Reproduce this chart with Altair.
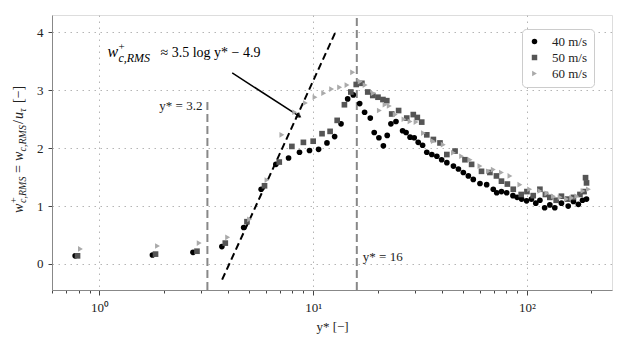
import altair as alt
import pandas as pd

speeds = ["40 m/s", "50 m/s", "60 m/s"]
colors = ["#000000", "#555555", "#aaaaaa"]
shapes = ["circle", "square", "triangle-right"]

x40 = [0.77, 1.77, 2.74, 3.74, 4.73, 5.71, 6.69, 7.67, 8.63, 9.61, 10.6, 11.6, 12.6, 13.5, 14.5,
       15.4, 16.5, 17.4, 18.5, 19.3, 20.3, 21.3, 22.2, 23.1, 24.4, 26.2, 27.2, 28.4, 29.7, 31.0,
       32.5, 34.0, 35.9, 37.9, 39.9, 42.2, 45.3, 47.8, 50.4, 53.2, 56.1, 60.3, 64.8, 69.6, 72.2,
       76.0, 80.4, 86.0, 90.0, 94.4, 99.6, 105, 110, 115, 121, 128, 135, 145, 156, 165, 174, 182, 190]
y40 = [0.14, 0.155, 0.20, 0.30, 0.63, 1.29, 1.72, 1.83, 1.93, 1.96, 1.98, 2.09, 2.20, 2.42, 2.85,
       2.92, 2.77, 2.62, 2.52, 2.27, 2.18, 2.04, 2.22, 2.42, 2.46, 2.30, 2.27, 2.19, 2.18, 2.10,
       2.05, 1.93, 1.89, 1.86, 1.80, 1.75, 1.69, 1.64, 1.58, 1.52, 1.46, 1.39, 1.37, 1.29, 1.23,
       1.25, 1.23, 1.18, 1.15, 1.12, 1.09, 1.12, 1.05, 1.10, 0.97, 1.02, 0.97, 1.05, 1.00, 1.08, 1.03, 1.10, 1.12]

x50 = [0.79, 1.83, 2.86, 3.88, 4.90, 5.92, 6.94, 7.95, 9.0, 10.0, 11.0, 12.0, 12.95, 14.0, 15.0,
       15.9, 16.9, 18.0, 19.0, 20.1, 21.2, 22.1, 23.3, 25.1, 27.4, 29.4, 30.7, 32.2, 34.0, 36.5,
       39.2, 42.2, 46.1, 51.3, 55.1, 61.3, 67.1, 72.0, 76.0, 81.0, 86.3, 94.0, 100, 107, 115,
       122, 128, 137, 145, 155, 165, 177, 185, 188, 190]
y50 = [0.14, 0.17, 0.22, 0.36, 0.73, 1.35, 1.76, 2.03, 2.10, 2.12, 2.25, 2.29, 2.48, 2.75, 2.97,
       3.10, 3.12, 2.97, 2.91, 2.88, 2.84, 2.82, 2.59, 2.65, 2.52, 2.58, 2.53, 2.45, 2.23, 2.15,
       2.09, 1.89, 1.95, 1.80, 1.72, 1.60, 1.58, 1.52, 1.43, 1.38, 1.29, 1.20, 1.25, 1.18, 1.29,
       1.20, 1.15, 1.10, 1.17, 1.12, 1.15, 1.20, 1.25, 1.49, 1.40]

x60 = [0.815, 1.87, 2.93, 3.98, 5.04, 6.08, 7.14, 8.2, 9.2, 10.2, 11.2, 12.2, 13.3, 14.4, 15.3,
       16.6, 17.5, 19.1, 20.4, 21.7, 22.7, 24.2, 26.6, 28.4, 30.3, 32.8, 36.5, 40.6, 45.3, 49.5,
       54.2, 60.3, 66.0, 69.6, 76.0, 83.3, 92.7, 103, 115, 124, 133, 143, 153, 162, 171, 183, 194]
y60 = [0.26, 0.31, 0.36, 0.46, 0.77, 1.45, 2.23, 2.62, 2.78, 2.88, 2.95, 3.02, 3.05, 3.09, 3.31,
       3.15, 3.09, 2.95, 2.65, 2.75, 2.73, 2.58, 2.50, 2.46, 2.45, 2.26, 2.12, 2.06, 1.92, 1.86,
       1.80, 1.69, 1.60, 1.63, 1.58, 1.52, 1.37, 1.29, 1.26, 1.22, 1.17, 1.15, 1.12, 1.14, 1.17, 1.26, 1.29]

x_ticks = [0.6, 0.7, 0.8, 0.9, 1, 2, 3, 4, 5, 6, 7, 8, 9, 10, 20, 30, 40, 50, 60, 70, 80, 90, 100, 200]
y_ticks = [0, 1, 2, 3, 4]

fit_x = [3.75, 12.7]
fit_y = [-0.27, 4.0]

vline_x = [3.2, 16]
vline_top = [2.8, 4.25]
vline_labels = ["y* = 3.2", "y* = 16"]

FONT = "Liberation Serif"
TXT = "#222222"

rows = []
for lab, xs, ys in zip(speeds, [x40, x50, x60], [y40, y50, y60]):
    for a, b in zip(xs, ys):
        rows.append({"ys": a, "w": b, "speed": lab})
df = pd.DataFrame(rows)

xscale = alt.Scale(type="log", domain=[0.6, 250], nice=False)
yscale = alt.Scale(domain=[-0.45, 4.3], nice=False, zero=False)

major = "abs(log(datum.value)/LN10 - round(log(datum.value)/LN10)) < 0.001"

xaxis = alt.Axis(
    values=x_ticks,
    labelExpr="datum.value == 1 ? '10⁰' : datum.value == 10 ? '10¹' : datum.value == 100 ? '10²' : ''",
    title="y* [−]",
    grid=True,
    gridOpacity={"condition": {"test": major, "value": 1}, "value": 0},
    gridDash=[1.5, 4.5], gridColor="#b5b5b5", gridWidth=1,
    tickSize={"condition": {"test": major, "value": 5}, "value": 3},
    domainColor="#888888", tickColor="#444444",
    labelFont=FONT, labelFontSize=13, labelColor=TXT, labelPadding=6,
    labelOverlap=False, labelFlush=False,
    titleFont=FONT, titleFontSize=13, titleFontWeight="normal", titleColor=TXT, titlePadding=6,
)
yaxis = alt.Axis(
    values=y_ticks, format="d", title=None, grid=True,
    gridDash=[1.5, 4.5], gridColor="#b5b5b5", gridWidth=1,
    tickSize=4, domainColor="#888888", tickColor="#444444",
    labelFont=FONT, labelFontSize=13, labelColor=TXT, labelPadding=5,
)

pts = alt.Chart(df).mark_point(filled=True, opacity=1, size=32, strokeWidth=0).encode(
    x=alt.X("ys:Q", scale=xscale, axis=xaxis),
    y=alt.Y("w:Q", scale=yscale, axis=yaxis),
    color=alt.Color("speed:N", scale=alt.Scale(domain=speeds, range=colors),
                    legend=alt.Legend(title=None, orient="none", legendX=470, legendY=14,
                                      strokeColor="#cccccc", fillColor="white", cornerRadius=4,
                                      padding=6, labelFont=FONT, labelFontSize=13,
                                      labelColor=TXT, symbolSize=30, rowPadding=2,
                                      labelOffset=11)),
    shape=alt.Shape("speed:N", scale=alt.Scale(domain=speeds, range=shapes)),
)

vdf = pd.DataFrame({"ys": vline_x, "lo": [-0.45, -0.45], "hi": vline_top})
vlines = alt.Chart(vdf).mark_rule(color="#888888", strokeWidth=2, strokeDash=[8, 4]).encode(
    x=alt.X("ys:Q", scale=xscale), y=alt.Y("lo:Q", scale=yscale), y2="hi:Q")

fdf = pd.DataFrame({"ys": fit_x, "w": fit_y})
fit = alt.Chart(fdf).mark_line(color="black", strokeWidth=2, strokeDash=[7, 4]).encode(
    x=alt.X("ys:Q", scale=xscale), y=alt.Y("w:Q", scale=yscale))

adf = pd.DataFrame({"ys": [4.18, 8.7], "w": [3.3, 2.54]})
arrow = alt.Chart(adf).mark_line(color="black", strokeWidth=1.5).encode(
    x=alt.X("ys:Q", scale=xscale), y=alt.Y("w:Q", scale=yscale))
head = alt.Chart(adf.iloc[[1]]).mark_point(
    shape="M-1,-0.7L0,0L-1,0.7", filled=False, stroke="black", strokeWidth=1.5, size=60, angle=33
).encode(x=alt.X("ys:Q", scale=xscale), y=alt.Y("w:Q", scale=yscale))

l1 = alt.Chart(pd.DataFrame({"ys": [3.2], "w": [2.73], "t": [vline_labels[0]]})).mark_text(
    align="right", baseline="middle", dx=-5, font=FONT, fontSize=13, color=TXT
).encode(x=alt.X("ys:Q", scale=xscale), y=alt.Y("w:Q", scale=yscale), text="t:N")
l2 = alt.Chart(pd.DataFrame({"ys": [16], "w": [0.12], "t": [vline_labels[1]]})).mark_text(
    align="left", baseline="middle", dx=6, font=FONT, fontSize=13, color=TXT
).encode(x=alt.X("ys:Q", scale=xscale), y=alt.Y("w:Q", scale=yscale), text="t:N")


def dtext(xs, ys, texts, size, italic=False):
    d = pd.DataFrame({"ys": xs, "w": ys, "t": texts})
    return alt.Chart(d).mark_text(
        align="left", baseline="alphabetic", font=FONT, fontSize=size,
        fontStyle="italic" if italic else "normal", color="black"
    ).encode(x=alt.X("ys:Q", scale=xscale), y=alt.Y("w:Q", scale=yscale), text="t:N")


ann = [
    dtext([1.09], [3.574], ["w"], 16, True),
    dtext([1.227], [3.69], ["+"], 11),
    dtext([1.227], [3.48], ["c,RMS"], 12, True),
    dtext([1.93], [3.574], ["≈ 3.5 log y* − 4.9"], 14),
]


def ptext(px, py, text, size, italic=False):
    d = pd.DataFrame({"t": [text]})
    return alt.Chart(d).mark_text(
        align="left", baseline="alphabetic", angle=270, font=FONT, fontSize=size,
        fontStyle="italic" if italic else "normal", color=TXT
    ).encode(x=alt.value(px), y=alt.value(py), text="t:N")


BX = -29
ytitle = [
    ptext(BX, 198, "w", 14, True),
    ptext(BX - 6, 188, "+", 10),
    ptext(BX + 3, 188, "c,RMS", 10, True),
    ptext(BX, 158, "=", 14),
    ptext(BX, 146, "w", 14, True),
    ptext(BX + 3, 136.5, "c,RMS", 10, True),
    ptext(BX, 109, "/", 14),
    ptext(BX, 104, "u", 14, True),
    ptext(BX + 3, 97, "τ", 10, True),
    ptext(BX, 88, "[−]", 14),
]

chart = alt.layer(vlines, fit, arrow, head, pts, l1, l2, *ann, *ytitle).properties(
    width=560, height=275,
    autosize=alt.AutoSizeParams(type="none"),
    padding={"left": 44, "top": 7, "right": 3, "bottom": 44},
).configure_view(stroke=None).configure(background="white")

chart.save("out.html", embed_options={"renderer": "svg", "actions": False})
